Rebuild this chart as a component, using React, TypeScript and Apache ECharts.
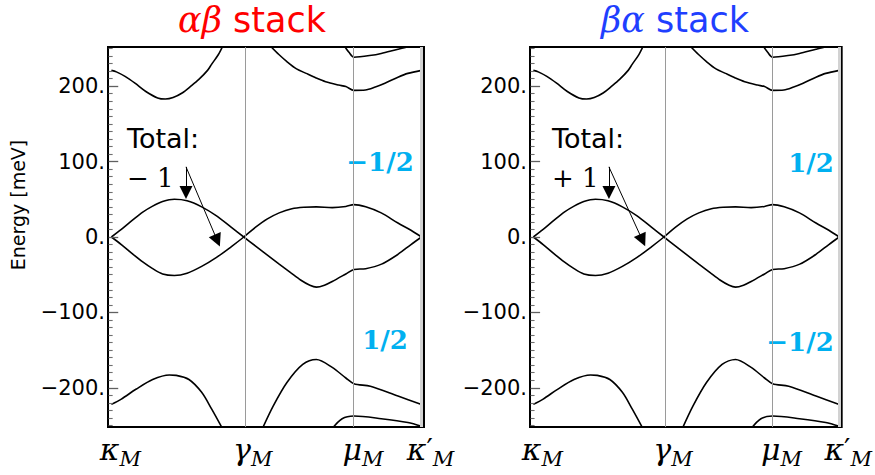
import React, { useEffect, useRef } from 'react';
import * as echarts from 'echarts';

// High-symmetry path of the moiré Brillouin zone (normalised path length)
const K_NODES = [0, 0.427, 0.782, 1];
const K_NAMES = ['κ', 'γ', 'μ', 'κ′'];
const K_RANGE = [-0.011, 1.008];

// Energy axis (meV)
const E_TICKS = [-200, -100, 0, 100, 200];
const E_RANGE = [-252, 252];

// Bands as [k, E(meV)]
const BAND_A = [
  [0, 0], [0.032, 10], [0.07, 23], [0.101, 33], [0.133, 41], [0.165, 47], [0.203, 50],
  [0.244, 48], [0.291, 40], [0.339, 28], [0.386, 13], [0.427, 0], [0.465, -12], [0.503, -24],
  [0.541, -36], [0.58, -48], [0.61, -57], [0.64, -64], [0.661, -66.5], [0.687, -64],
  [0.712, -59], [0.756, -49], [0.782, -43], [0.82, -42], [0.871, -36], [0.924, -23],
  [0.966, -10], [1, 0],
];
const BAND_B = [
  [0, 0], [0.032, -10], [0.07, -23], [0.101, -33], [0.133, -42], [0.165, -49], [0.203, -51],
  [0.244, -48], [0.291, -39], [0.339, -27], [0.386, -13], [0.427, 0], [0.465, 13], [0.503, 24],
  [0.541, 32], [0.582, 37.5], [0.62, 39.5], [0.661, 40], [0.712, 39], [0.756, 40.5],
  [0.782, 43], [0.82, 40], [0.87, 32], [0.924, 18.5], [0.966, 9], [1, 0],
];
const BAND_C = [
  [0, 221], [0.016, 219], [0.044, 213], [0.076, 204], [0.111, 193], [0.149, 184.5],
  [0.174, 183], [0.199, 185], [0.228, 191], [0.256, 200], [0.282, 209], [0.31, 221],
  [0.323, 229], [0.345, 242], [0.36, 254],
];
const BAND_D = [
  [0.513, 253], [0.54, 242], [0.565, 233], [0.597, 223], [0.628, 217], [0.66, 211],
  [0.691, 206], [0.733, 201.5], [0.756, 199.5], [0.782, 194.5], [0.819, 195], [0.851, 199],
  [0.882, 204], [0.924, 212], [0.956, 217], [1, 221],
];
const BAND_E = [
  [0.75, 254], [0.766, 245], [0.782, 238.5], [0.839, 241], [0.87, 243.5], [0.924, 249],
  [0.956, 252], [1, 255],
];
const BAND_F = [
  [0, -222], [0.032, -215], [0.079, -202], [0.133, -189], [0.187, -183], [0.209, -183.5],
  [0.25, -189], [0.291, -206], [0.323, -228], [0.358, -254],
];
const BAND_G = [
  [0.487, -254], [0.522, -224], [0.566, -193], [0.617, -169], [0.661, -162.5], [0.712, -173],
  [0.756, -187], [0.782, -194.5], [0.835, -198], [0.924, -211], [1, -222],
];
const BAND_H = [
  [0.712, -254], [0.744, -241], [0.782, -237.5], [0.87, -241], [0.956, -246], [1, -251],
];
const BANDS = [BAND_A, BAND_B, BAND_C, BAND_D, BAND_E, BAND_F, BAND_G, BAND_H];

// Per-stack annotations: titles, Chern numbers and arrow anchors in (k, E)
const STACK_NAMES = ['αβ', 'βα'];
const STACK_COLORS = ['#ff0000', '#1f3fff'];
const TOTAL_CHERN = ['− 1', '+ 1'];
const UPPER_CHERN = ['−1/2', '1/2'];
const LOWER_CHERN = ['1/2', '−1/2'];
const ARROW_FROM = [[0.2406, 93], [0.247, 93]];
const ARROW_SHORT_END = [[0.2406, 59], [0.247, 59]];
const ARROW_LONG_END = [[0.3415, -4.8], [0.3567, -4.4]];

// Panel layout
const GRIDS = [
  { left: 108, top: 47, width: 316, height: 380 },
  { left: 530, top: 47, width: 315, height: 380 },
];
const TITLE_X = [252, 675];
const TOTAL_X = [127, 552];
const UPPER_POS = [[380, 162], [811, 163]];
const LOWER_POS = [[385, 340], [800, 342]];
// frame tick lengths, expressed along the k axis
const TICK_START_K = K_RANGE[0] + 0.002;
const MAJOR_TICK_K = 0.031;
const MINOR_TICK_K = 0.013;

const CHERN_COLOR = '#00b0f0';
const SANS = 'DejaVu Sans';
const SERIF = 'DejaVu Serif';

const minorTicks: number[] = [];
for (let v = -250; v <= 250; v += 10) {
  if (v % 100 !== 0) minorTicks.push(v);
}

const fmtEnergy = (v: number) => (v < 0 ? '\u2212' + Math.abs(v) : String(v)) + '.';

const fmtNode = (name: string) => {
  const primed = name.endsWith('′');
  const base = primed ? name.slice(0, -1) : name;
  return `{sp|\u00a0}{g|${base}}${primed ? '{p|′}' : ''}{s|M}`;
};

const tickSegment = (e: number, len: number) => [
  { coord: [TICK_START_K, e] },
  { coord: [TICK_START_K + len, e] },
];

export default function App() {
  const ref = useRef<HTMLDivElement>(null);

  useEffect(() => {
    if (!ref.current) return;
    const chart = echarts.init(ref.current, undefined, { renderer: 'svg' });

    const xAxis = GRIDS.map((_, g) => ({
      type: 'value',
      gridIndex: g,
      position: 'bottom',
      min: K_RANGE[0],
      max: K_RANGE[1],
      axisLine: { show: false, onZero: false },
      axisTick: { show: false },
      splitLine: { show: false },
      axisLabel: {
        customValues: K_NODES,
        margin: 2,
        formatter: (v: number, i: number) => {
          let idx = K_NODES.indexOf(v);
          if (idx < 0) idx = i;
          return fmtNode(K_NAMES[idx]);
        },
        rich: {
          sp: { width: 18 },
          g: { fontFamily: SERIF, fontStyle: 'italic', fontSize: 30, lineHeight: 40, color: '#000' },
          p: { fontFamily: SERIF, fontSize: 28, lineHeight: 40, color: '#000' },
          s: {
            fontFamily: SERIF, fontStyle: 'italic', fontSize: 21, lineHeight: 23,
            verticalAlign: 'bottom', color: '#000',
          },
        },
      },
    }));

    const yAxis = GRIDS.map((_, g) => ({
      type: 'value',
      gridIndex: g,
      position: 'left',
      min: E_RANGE[0],
      max: E_RANGE[1],
      name: g === 0 ? 'Energy [meV]' : '',
      nameLocation: 'middle',
      nameRotate: 90,
      nameGap: 81,
      nameTextStyle: {
        fontFamily: SANS,
        fontSize: 19,
        color: '#000',
        padding: [0, 0, 0, 64],
      },
      axisLine: { show: false, onZero: false },
      splitLine: { show: false },
      axisTick: { show: false },
      axisLabel: {
        show: true,
        customValues: E_TICKS,
        formatter: fmtEnergy,
        margin: 3,
        fontFamily: SANS,
        fontSize: 21,
        color: '#000',
      },
    }));

    const series: any[] = [];
    GRIDS.forEach((_, g) => {
      // symmetry-point guide lines
      series.push({
        type: 'line',
        xAxisIndex: g,
        yAxisIndex: g,
        data: [],
        silent: true,
        z: 1,
        markLine: {
          silent: true,
          symbol: ['none', 'none'],
          label: { show: false },
          emphasis: { disabled: true },
          data: [
            { xAxis: K_NODES[1], lineStyle: { color: '#9a9a9a', width: 1, type: 'solid' } },
            { xAxis: K_NODES[2], lineStyle: { color: '#9a9a9a', width: 1, type: 'solid' } },
            { xAxis: K_NODES[3], lineStyle: { color: '#d2d2d2', width: 3, type: 'solid' } },
          ],
        },
      });
      // major frame ticks
      series.push({
        type: 'line',
        xAxisIndex: g,
        yAxisIndex: g,
        data: [],
        silent: true,
        z: 2,
        markLine: {
          silent: true,
          symbol: ['none', 'none'],
          label: { show: false },
          emphasis: { disabled: true },
          lineStyle: { color: '#606060', width: 1.3, type: 'solid' },
          data: E_TICKS.map((e) => tickSegment(e, MAJOR_TICK_K)),
        },
      });
      // minor frame ticks
      series.push({
        type: 'line',
        xAxisIndex: g,
        yAxisIndex: g,
        data: [],
        silent: true,
        z: 2,
        markLine: {
          silent: true,
          symbol: ['none', 'none'],
          label: { show: false },
          emphasis: { disabled: true },
          lineStyle: { color: '#707070', width: 1.1, type: 'solid' },
          data: minorTicks.map((e) => tickSegment(e, MINOR_TICK_K)),
        },
      });
      BANDS.forEach((band) => {
        series.push({
          type: 'line',
          xAxisIndex: g,
          yAxisIndex: g,
          data: band,
          showSymbol: false,
          smooth: 0.3,
          clip: true,
          silent: true,
          z: 3,
          lineStyle: { color: '#000', width: 1.6 },
          emphasis: { disabled: true },
        });
      });
      // arrows pointing at the crossing bands
      series.push({
        type: 'line',
        xAxisIndex: g,
        yAxisIndex: g,
        data: [],
        silent: true,
        z: 4,
        markLine: {
          silent: true,
          symbol: ['none', 'triangle'],
          symbolSize: 13,
          label: { show: false },
          emphasis: { disabled: true },
          itemStyle: { color: '#000' },
          lineStyle: { color: '#000', width: 1, type: 'solid' },
          data: [
            [{ coord: ARROW_FROM[g] }, { coord: ARROW_SHORT_END[g] }],
            [{ coord: ARROW_FROM[g] }, { coord: ARROW_LONG_END[g] }],
          ],
        },
      });
    });

    const graphic: any[] = [];
    GRIDS.forEach((_, g) => {
      graphic.push({
        type: 'text',
        x: TITLE_X[g],
        y: 20,
        style: {
          text: `{a|${STACK_NAMES[g]}} {b|stack}`,
          align: 'center',
          verticalAlign: 'middle',
          fill: STACK_COLORS[g],
          fontSize: 35,
          fontFamily: SANS,
          rich: {
            a: { fontFamily: SERIF, fontStyle: 'italic', fontSize: 35, fill: STACK_COLORS[g] },
            b: { fontFamily: SANS, fontSize: 35, fill: STACK_COLORS[g] },
          },
        },
      });
      graphic.push({
        type: 'text',
        x: TOTAL_X[g],
        y: 138,
        style: {
          text: 'Total:',
          fontFamily: SANS,
          fontSize: 27,
          fill: '#000',
          align: 'left',
          verticalAlign: 'middle',
        },
      });
      graphic.push({
        type: 'text',
        x: TOTAL_X[g],
        y: 178,
        style: {
          text: TOTAL_CHERN[g],
          fontFamily: SERIF,
          fontSize: 26,
          fill: '#000',
          align: 'left',
          verticalAlign: 'middle',
        },
      });
      graphic.push({
        type: 'text',
        x: UPPER_POS[g][0],
        y: UPPER_POS[g][1],
        style: {
          text: UPPER_CHERN[g],
          fontFamily: SERIF,
          fontWeight: 'bold',
          fontSize: 26,
          fill: CHERN_COLOR,
          align: 'center',
          verticalAlign: 'middle',
        },
      });
      graphic.push({
        type: 'text',
        x: LOWER_POS[g][0],
        y: LOWER_POS[g][1],
        style: {
          text: LOWER_CHERN[g],
          fontFamily: SERIF,
          fontWeight: 'bold',
          fontSize: 26,
          fill: CHERN_COLOR,
          align: 'center',
          verticalAlign: 'middle',
        },
      });
    });

    chart.setOption({
      animation: false,
      backgroundColor: '#fff',
      grid: GRIDS.map((gr) => ({
        ...gr,
        show: true,
        borderColor: '#000',
        borderWidth: 2,
        backgroundColor: 'transparent',
        containLabel: false,
      })),
      xAxis,
      yAxis,
      series,
      graphic,
    });

    return () => chart.dispose();
  }, []);

  return (
    <div
      ref={ref}
      style={{ position: 'absolute', left: 0, top: 0, width: 875, height: 475 }}
    />
  );
}
